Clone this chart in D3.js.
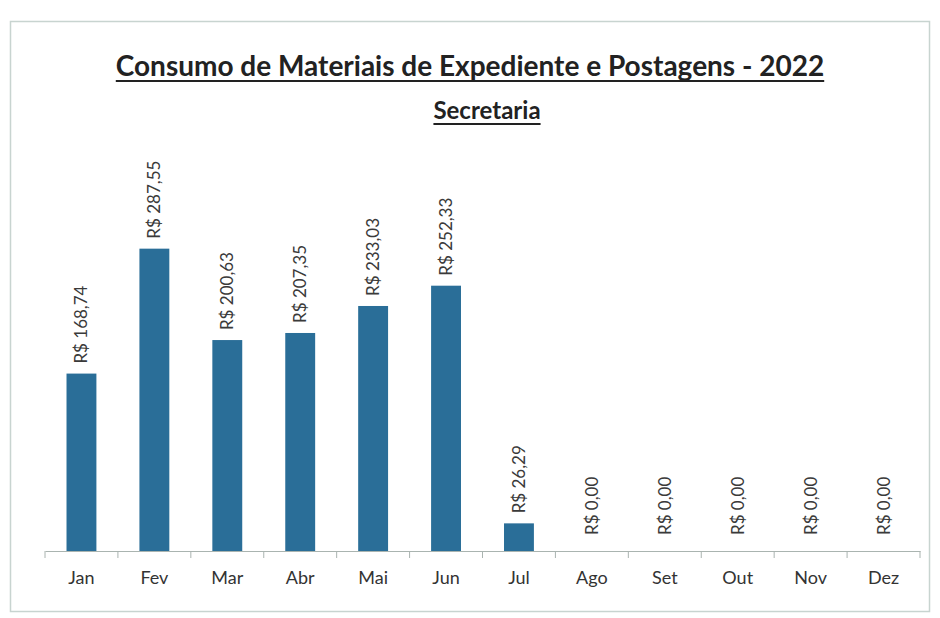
<!DOCTYPE html>
<html><head><meta charset="utf-8">
<script src="https://cdn.jsdelivr.net/npm/d3@7"></script>
<style>body{margin:0;background:#fff}</style>
</head><body>
<svg id="c" width="940" height="618"></svg>
<script>
const months = ["Jan","Fev","Mar","Abr","Mai","Jun","Jul","Ago","Set","Out","Nov","Dez"];
const values = [168.74,287.55,200.63,207.35,233.03,252.33,26.29,0,0,0,0,0];
const labels = ["R$ 168,74","R$ 287,55","R$ 200,63","R$ 207,35","R$ 233,03","R$ 252,33","R$ 26,29","R$ 0,00","R$ 0,00","R$ 0,00","R$ 0,00","R$ 0,00"];
const title = "Consumo de Materiais de Expediente e Postagens - 2022";
const subtitle = "Secretaria";

const svg = d3.select("#c");
svg.append("rect").attr("x",10.5).attr("y",21.5).attr("width",919).attr("height",590)
  .attr("fill","#fff").attr("stroke","#c8d4d0").attr("stroke-width",1.5);

const x = d3.scaleBand().domain(months).range([45,920]).paddingInner(0.59).paddingOuter(0.295);
const y = d3.scaleLinear().domain([0,350]).range([551,183]);

function uline(sel, txt, cx, by, size){
  const t = sel.append("text").attr("x",cx).attr("y",by).attr("text-anchor","middle")
    .attr("font-family","Lato, sans-serif").attr("font-weight","bold").attr("font-size",size)
    .attr("fill","#222").text(txt);
  const b = t.node().getBBox();
  sel.append("line").attr("x1",b.x).attr("x2",b.x+b.width).attr("y1",by+5).attr("y2",by+5)
    .attr("stroke","#222").attr("stroke-width",2);
}
uline(svg,title,470,76,28);
uline(svg,subtitle,487,119,24);

svg.selectAll("rect.bar").data(values).join("rect").attr("class","bar")
  .attr("x",(d,i)=>x(months[i])).attr("width",x.bandwidth())
  .attr("y",d=>y(d)).attr("height",d=>y(0)-y(d)).attr("fill","#2a6e98");

svg.selectAll("text.lbl").data(values).join("text").attr("class","lbl")
  .attr("transform",(d,i)=>`translate(${x(months[i])+x.bandwidth()/2+6},${y(d)-(d===0?16:10)}) rotate(-90)`)
  .attr("font-family","Lato, sans-serif").attr("font-size",17).attr("fill","#3a3a3a")
  .text((d,i)=>labels[i]);

const ax = svg.append("g").attr("transform",`translate(0,${y(0)})`)
  .call(d3.axisBottom(x).tickSize(0).tickPadding(20));
ax.select(".domain").attr("stroke","#aab4b0").attr("stroke-width",1.2);
ax.selectAll("text").attr("font-family","Lato, sans-serif").attr("font-size",18).attr("fill","#333");
const step = x.step();
const bounds = d3.range(13).map(i=>45+i*step);
ax.selectAll("line.tk").data(bounds).join("line").attr("class","tk")
  .attr("x1",d=>d).attr("x2",d=>d).attr("y1",0).attr("y2",7).attr("stroke","#aab4b0");
</script>
</body></html>
